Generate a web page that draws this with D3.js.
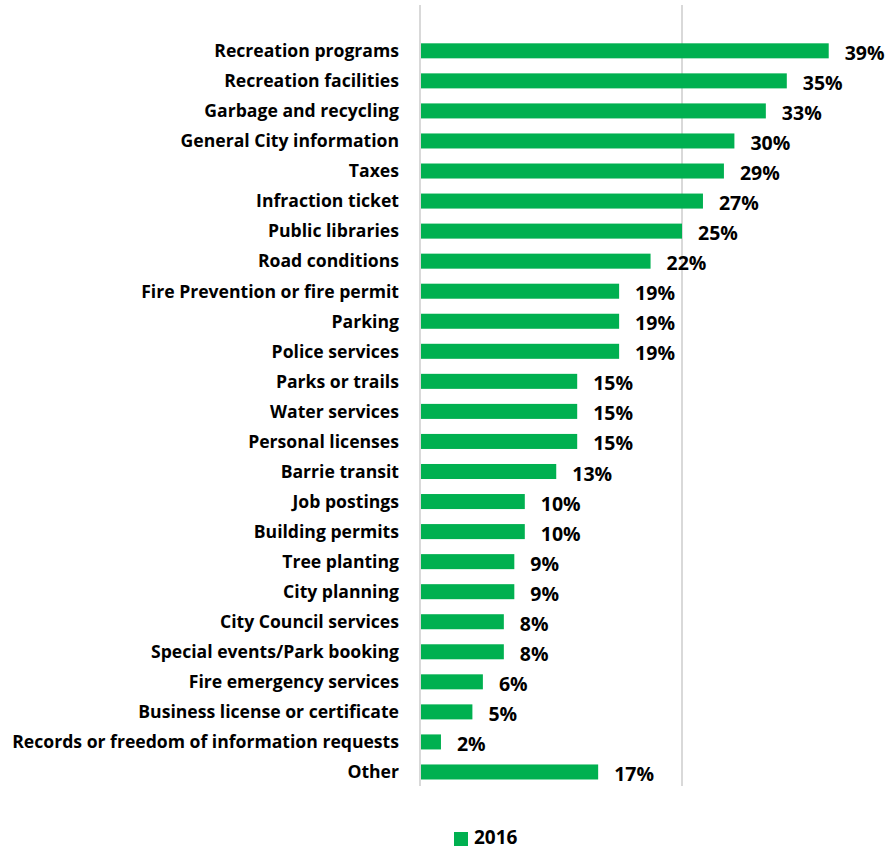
<!DOCTYPE html>
<html><head><meta charset="utf-8">
<script src="https://cdn.jsdelivr.net/npm/d3@7"></script>
<style>body{margin:0;background:#fff;} text{font-family:"Open Sans", Lato, sans-serif;font-weight:bold;}</style>
</head><body>
<svg id="chart" width="888" height="849"></svg>
<script>
const categories = ["Recreation programs","Recreation facilities","Garbage and recycling","General City information","Taxes","Infraction ticket","Public libraries","Road conditions","Fire Prevention or fire permit","Parking","Police services","Parks or trails","Water services","Personal licenses","Barrie transit","Job postings","Building permits","Tree planting","City planning","City Council services","Special events/Park booking","Fire emergency services","Business license or certificate","Records or freedom of information requests","Other"];
const values2016 = [39,35,33,30,29,27,25,22,19,19,19,15,15,15,13,10,10,9,9,8,8,6,5,2,17];
const gridTicks = [0,25];
const seriesName = "2016";

const svg = d3.select("#chart");
const x = d3.scaleLinear().domain([0,25]).range([420,682]);
const y = d3.scaleBand().domain(categories).range([35.8,787]).paddingInner(0.5).paddingOuter(0.25);

svg.append("g").selectAll("line").data(gridTicks).join("line")
  .attr("x1",d=>x(d)).attr("x2",d=>x(d)).attr("y1",5).attr("y2",786)
  .attr("stroke","#d9d9d9").attr("stroke-width",2);

const data = categories.map((c,i)=>({c,v:values2016[i]}));
svg.append("g").selectAll("rect").data(data).join("rect")
  .attr("x",x(0)+1).attr("y",d=>y(d.c)).attr("width",d=>x(d.v)-x(0)-1).attr("height",y.bandwidth())
  .attr("fill","#00b050");

svg.append("g").selectAll("text").data(data).join("text")
  .attr("x",d=>x(d.v)+16).attr("y",d=>y(d.c)+y.bandwidth()/2+2).attr("dy","0.36em")
  .attr("font-size",19.5).attr("fill","#000").text(d=>d.v+"%");

svg.append("g").selectAll("text").data(data).join("text")
  .attr("x",399).attr("y",d=>y(d.c)+y.bandwidth()/2).attr("dy","0.36em")
  .attr("text-anchor","end").attr("font-size",17.6).attr("fill","#000").text(d=>d.c);

const lg = svg.append("g");
lg.append("rect").attr("x",454).attr("y",832).attr("width",14).attr("height",14).attr("fill","#00b050");
lg.append("text").attr("x",474).attr("y",844).attr("font-size",19).attr("fill","#000").text(seriesName);
</script>
</body></html>
